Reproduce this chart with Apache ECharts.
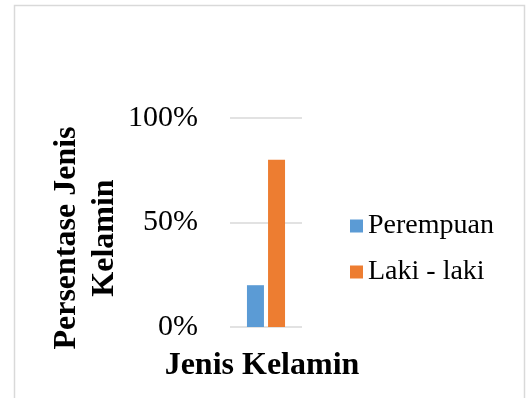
<!DOCTYPE html>
<html>
<head>
<meta charset="utf-8">
<script src="https://cdn.jsdelivr.net/npm/echarts@6/dist/echarts.min.js"></script>
<style>
  html, body { margin: 0; padding: 0; background: #fff; }
  #chart { width: 526px; height: 398px; }
</style>
</head>
<body>
<div id="chart"></div>
<script>
// Gender share of respondents
const categories = ['Jenis Kelamin'];
const seriesNames = ['Perempuan', 'Laki - laki'];
const perempuan = [0.2];
const lakiLaki = [0.8];
const yTicks = [0, 0.5, 1];

const serif = "'Liberation Serif', 'Times New Roman', serif";
const chart = echarts.init(document.getElementById('chart'), null, { renderer: 'canvas' });

chart.setOption({
  backgroundColor: '#fff',
  animation: false,
  grid: { left: 230, right: 224, top: 118, bottom: 71 },
  legend: {
    orient: 'vertical',
    left: 345,
    top: 206,
    itemWidth: 13,
    itemHeight: 13,
    itemGap: 16,
    icon: 'rect',
    data: seriesNames,
    textStyle: { fontFamily: serif, fontSize: 28, color: '#000', lineHeight: 30 }
  },
  xAxis: {
    type: 'category',
    data: categories,
    axisLine: { show: false },
    axisTick: { show: false },
    axisLabel: { show: false }
  },
  yAxis: {
    type: 'value',
    min: yTicks[0],
    max: yTicks[yTicks.length - 1],
    interval: yTicks[1] - yTicks[0],
    axisLine: { show: false },
    axisTick: { show: false },
    axisLabel: {
      margin: 32,
      fontFamily: serif,
      fontSize: 30,
      color: '#000',
      formatter: v => Math.round(v * 100) + '%'
    },
    splitLine: { lineStyle: { color: '#d9d9d9', width: 1.5 } }
  },
  series: [
    {
      name: seriesNames[0],
      type: 'bar',
      data: perempuan,
      barWidth: 17,
      barGap: '24%',
      itemStyle: { color: '#5b9bd5' }
    },
    {
      name: seriesNames[1],
      type: 'bar',
      data: lakiLaki,
      barWidth: 17,
      barGap: '24%',
      itemStyle: { color: '#ed7d31' }
    }
  ],
  graphic: [
    {
      type: 'rect',
      silent: true,
      shape: { x: 14.5, y: 5.5, width: 510, height: 420 },
      style: { fill: 'none', stroke: '#d9d9d9', lineWidth: 1.5 }
    },
    {
      type: 'text',
      x: 86,
      y: 238,
      rotation: Math.PI / 2,
      style: {
        text: 'Persentase Jenis\nKelamin',
        fontFamily: serif,
        fontSize: 32,
        fontWeight: 'bold',
        fill: '#000',
        align: 'center',
        verticalAlign: 'middle',
        lineHeight: 38
      }
    },
    {
      type: 'text',
      x: 262,
      y: 366,
      style: {
        text: 'Jenis Kelamin',
        fontFamily: serif,
        fontSize: 32,
        fontWeight: 'bold',
        fill: '#000',
        align: 'center',
        verticalAlign: 'middle'
      }
    }
  ]
});
</script>
</body>
</html>
